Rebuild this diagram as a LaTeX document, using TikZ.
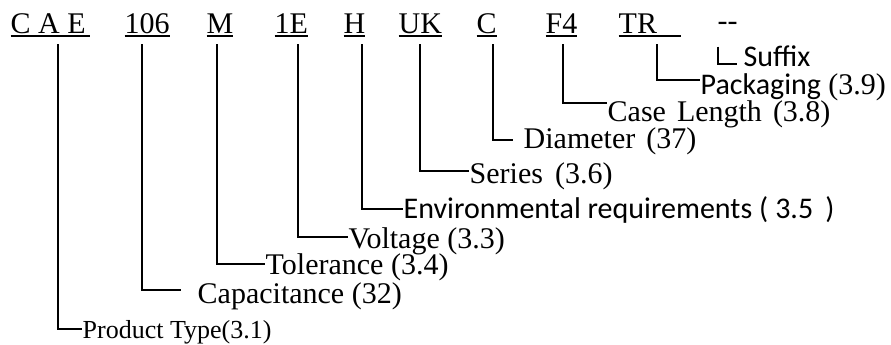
\documentclass[tikz,border=0pt]{standalone}
\usepackage{fontspec}
\setmainfont{Liberation Serif}
\newfontfamily\calibri{Carlito}
\usepackage{tikz}

% underlined part code, optional padding after the text
\newcommand{\ucode}[2][0pt]{\setbox0\hbox{#2\hspace{#1}}\rlap{\rule[-1.85pt]{\wd0}{0.65pt}}\box0}

\begin{document}
\begin{tikzpicture}[x=0.5pt,y=-0.5pt,
					%>=stealth',
					line width=0.7pt,
					pnum/.style={anchor=base west,inner sep=0pt,font=\fontsize{15pt}{18pt}\selectfont},
					desc/.style={anchor=base west,inner sep=0pt,font=\fontsize{15pt}{18pt}\selectfont},
					conn/.style={shorten <=3.5pt}]

  \useasboundingbox (0,0) rectangle (891,344);

  \node[pnum] (cae)  at (10,33)  {\ucode[2pt]{C A E}};
  \node[pnum] (n106) at (124,33) {\ucode{106}};
  \node[pnum] (m)    at (206,33) {\ucode{M}};
  \node[pnum] (v1e)  at (274,33) {\ucode{1E}};
  \node[pnum] (h)    at (343,33) {\ucode{H}};
  \node[pnum] (uk)   at (398,33) {\ucode{UK}};
  \node[pnum] (c)    at (476,33) {\ucode{C}};
  \node[pnum] (f4)   at (545,33) {\ucode{F4}};
  \node[pnum] (tr)   at (618,33) {\ucode[12pt]{TR}};
  \node[pnum] (dash) at (717,30) {-{}-};

  \node[desc,font=\fontsize{13pt}{16pt}\selectfont] (type) at (82,338) {Product Type(3.1)};
  \node[desc] (capac)   at (197,303) {Capacitance (32)};
  \node[desc] (toler)   at (265,274) {Tolerance (3.4)};
  \node[desc] (voltage) at (348,248) {Voltage (3.3)};
  \node[desc] (environ) at (403,218) {\calibri Environmental requirements\hspace{3.5pt}(\hspace{3.5pt}3.5\hspace{6pt})};
  \node[desc] (series)  at (469,183) {Series\hspace{6pt}(3.6)};
  \node[desc] (diam)    at (523,148) {Diameter\hspace{5.5pt}(37)};
  \node[desc] (length)  at (607,121) {Case\hspace{5.5pt}Length\hspace{5.5pt}(3.8)};
  \node[desc] (packing) at (700,94)  {{\calibri Packaging} (3.9)};
  \node[desc] (suffix)  at (743,66)  {\calibri Suffix};

  \draw[conn] ([xshift=24pt]cae.south west) |- ([yshift=4.5pt]type.base west);
  \draw[conn,shorten >=8pt] ([xshift=9pt]n106.south west) |- ([yshift=6.5pt]capac.base west);
  \draw[conn] ([xshift=5.5pt]m.south west) |- ([yshift=5pt]toler.base west);
  \draw[conn] ([xshift=12pt]v1e.south west) |- ([yshift=5.5pt]voltage.base west);
  \draw[conn] ([xshift=9.5pt]h.south west) |- ([yshift=4.5pt]environ.base west);
  \draw[conn] ([xshift=11pt]uk.south west) |- ([yshift=6pt]series.base west);
  \draw[conn,shorten >=5pt] ([xshift=8.5pt]c.south west) |- ([yshift=4pt]diam.base west);
  \draw[conn] ([xshift=9pt]f4.south west) |- ([yshift=9pt]length.base west);
  \draw[conn] ([xshift=19.5pt]tr.south west) |- ([yshift=7pt]packing.base west);
  \draw[conn,shorten <=8pt,shorten >=3pt] ([xshift=0.5pt]dash.south west) |- ([yshift=1pt]suffix.base west);
\end{tikzpicture}
\end{document}
